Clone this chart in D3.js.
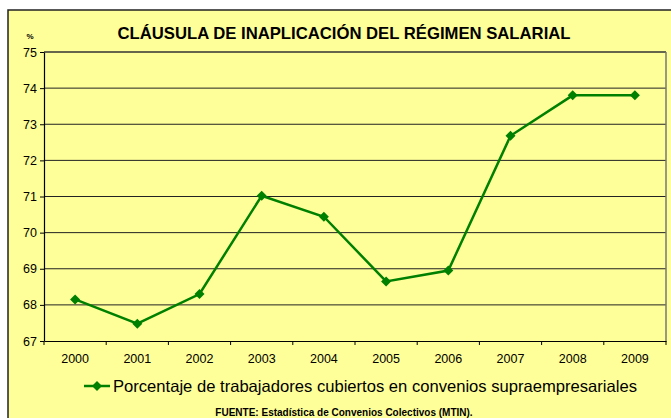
<!doctype html>
<html>
<head>
<meta charset="UTF-8">
<script src="https://cdn.jsdelivr.net/npm/d3@7"></script>
<style>
  body { margin: 0; background: #fff; }
  text { font-family: "Liberation Sans", Arial, sans-serif; }
</style>
</head>
<body>
<svg id="chart" width="671" height="418"></svg>
<script>
// chart data
var years = ["2000", "2001", "2002", "2003", "2004", "2005", "2006", "2007", "2008", "2009"];
var values = [68.15, 67.48, 68.3, 71.02, 70.44, 68.65, 68.95, 72.68, 73.8, 73.8];
var yTicks = [67, 68, 69, 70, 71, 72, 73, 74, 75];
var title = "CLÁUSULA DE INAPLICACIÓN DEL RÉGIMEN SALARIAL";
var seriesName = "Porcentaje de trabajadores cubiertos en convenios supraempresariales";
var source = "FUENTE: Estadística de Convenios Colectivos (MTIN).";

var svg = d3.select("#chart");
var plotLeft = 44, plotRight = 666, plotTop = 52, plotBottom = 341;

// outer frame
svg.append("rect").attr("x", 8).attr("y", 10).attr("width", 670).attr("height", 420)
  .attr("fill", "#FFFF99").attr("stroke", "#222").attr("stroke-width", 1.5);

var x = d3.scaleBand().domain(years).range([plotLeft, plotRight]);
var y = d3.scaleLinear().domain([67, 75]).range([plotBottom, plotTop]);

// gridlines
svg.append("g").selectAll("line").data(yTicks.slice(1, -1)).join("line")
  .attr("x1", plotLeft).attr("x2", plotRight)
  .attr("y1", d => y(d)).attr("y2", d => y(d))
  .attr("stroke", "#222").attr("stroke-width", 1);

// plot border
svg.append("line").attr("x1", plotLeft).attr("x2", plotRight).attr("y1", plotTop).attr("y2", plotTop)
  .attr("stroke", "#333").attr("stroke-width", 1.5);
svg.append("line").attr("x1", plotRight).attr("x2", plotRight).attr("y1", plotTop).attr("y2", plotBottom)
  .attr("stroke", "#777").attr("stroke-width", 1.5);

// axes
var yAxis = svg.append("g").attr("transform", "translate(" + plotLeft + ",0)")
  .call(d3.axisLeft(y).tickValues(yTicks).tickSize(4).tickPadding(3).tickSizeOuter(0));
var xAxis = svg.append("g").attr("transform", "translate(0," + plotBottom + ")")
  .call(d3.axisBottom(x).tickSize(0).tickPadding(13));
xAxis.selectAll(".tick line").remove();
xAxis.append("g").selectAll("line").data(years.concat(["end"])).join("line")
  .attr("x1", (d, i) => plotLeft + i * x.bandwidth()).attr("x2", (d, i) => plotLeft + i * x.bandwidth())
  .attr("y1", 0).attr("y2", 4).attr("stroke", "#000");
svg.selectAll(".domain").attr("stroke", "#000").attr("stroke-width", 1.2);
svg.selectAll(".tick text").attr("font-size", 12.5).attr("fill", "#000")
  .style("font-family", "'Liberation Sans', Arial, sans-serif");

// line
var line = d3.line().x((d, i) => x(years[i]) + x.bandwidth() / 2).y(d => y(d));
svg.append("path").datum(values).attr("d", line)
  .attr("fill", "none").attr("stroke", "#008000").attr("stroke-width", 2.5);
svg.append("g").selectAll("path").data(values).join("path")
  .attr("d", d3.symbol(d3.symbolDiamond2, 64))
  .attr("transform", (d, i) => "translate(" + (x(years[i]) + x.bandwidth() / 2) + "," + y(d) + ")")
  .attr("fill", "#008000");

// title and labels
svg.append("text").attr("x", 344).attr("y", 39).attr("text-anchor", "middle")
  .attr("font-size", 16.5).attr("font-weight", "bold")
  .attr("textLength", 453).attr("lengthAdjust", "spacingAndGlyphs").text(title);
svg.append("text").attr("x", 30).attr("y", 39).attr("text-anchor", "middle")
  .attr("font-size", 8).attr("font-weight", "bold").text("%");

// legend
var lg = svg.append("g").attr("transform", "translate(84,386)");
lg.append("line").attr("x1", 0).attr("x2", 26).attr("y1", 0).attr("y2", 0)
  .attr("stroke", "#008000").attr("stroke-width", 2.5);
lg.append("path").attr("d", d3.symbol(d3.symbolDiamond2, 64)).attr("transform", "translate(13,0)")
  .attr("fill", "#008000");
lg.append("text").attr("x", 29).attr("y", 6).attr("font-size", 16.5)
  .attr("textLength", 524).attr("lengthAdjust", "spacingAndGlyphs").text(seriesName);

svg.append("text").attr("x", 344).attr("y", 416).attr("text-anchor", "middle")
  .attr("font-size", 10).attr("font-weight", "bold").text(source);
</script>
</body>
</html>
